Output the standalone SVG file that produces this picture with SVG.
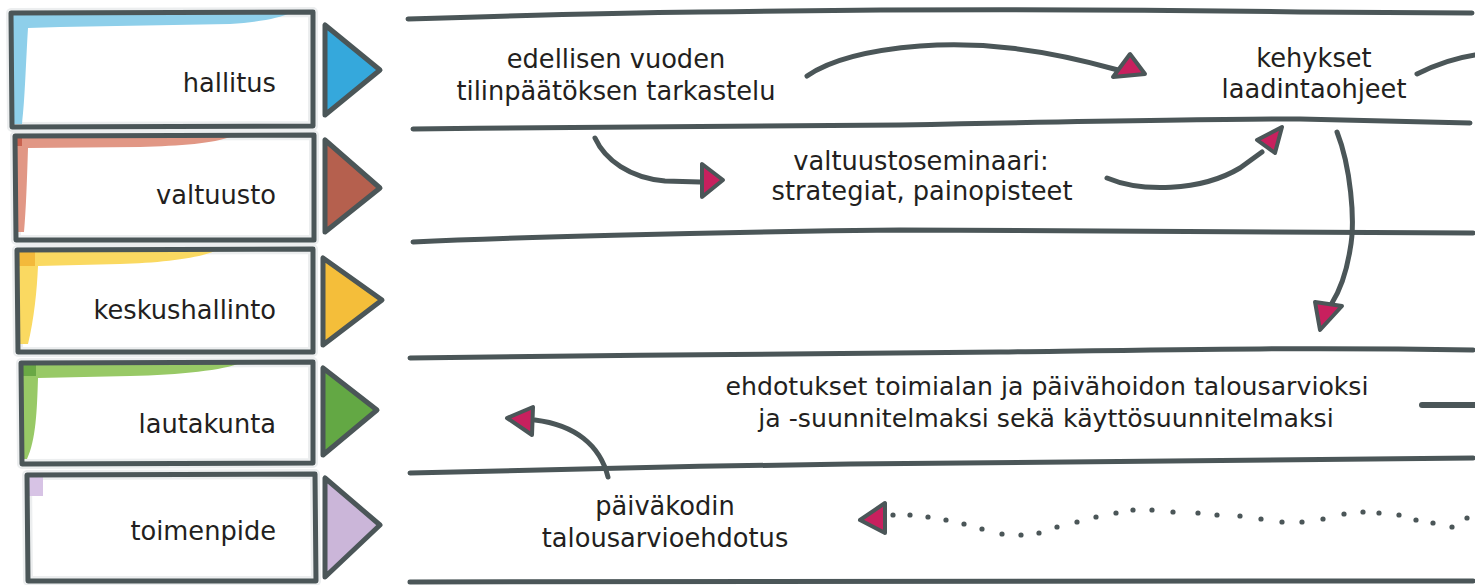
<svg xmlns="http://www.w3.org/2000/svg" width="1475" height="585" viewBox="0 0 1475 585">
<style>
.bg{fill:#ffffff}
.box{fill:none;stroke:#4b5658;stroke-width:5;stroke-linejoin:round;stroke-linecap:round}
.halo{fill:none;stroke:#eceeef;stroke-width:10;stroke-linejoin:round}
.tri{stroke:#4b5658;stroke-width:5;stroke-linejoin:round}
.lane{fill:none;stroke:#4b5658;stroke-width:5;stroke-linecap:round}
.conn{fill:none;stroke:#4b5658;stroke-width:5;stroke-linecap:round;stroke-linejoin:round}
.head{fill:#c8205e;stroke:#4b5658;stroke-width:4;stroke-linejoin:round}
.dot{fill:#4b5658}
text{font-family:"DejaVu Sans","Open Sans","Liberation Sans",sans-serif;font-size:25.7px;fill:#231f20}
.lbl{text-anchor:end}
.mid{text-anchor:middle}
.sm{font-size:25.2px}
</style>
<rect class="bg" x="0" y="0" width="1475" height="585"/>

<g id="lanes">
<path class="lane" d="M408,19 C500,16 600,13 700,12 C900,9 1100,9 1300,12 L1472,13"/>
<path class="lane" d="M413,129 C600,127 800,126 900,125 C1050,122 1200,119 1300,119 L1470,123"/>
<path class="lane" d="M413,242 C500,238 700,232 900,230 C1100,230 1300,233 1473,233"/>
<path class="lane" d="M410,358 C600,355 850,354 1000,352 C1150,350 1300,347 1473,350"/>
<path class="lane" d="M410,473 C500,470 700,466 850,464 C1050,462 1250,460 1473,458"/>
<path class="lane" d="M410,582 C700,580 1100,581 1473,581"/>
</g>

<g id="node-hallitus">
<path class="halo" d="M11,13 L313,12 L313,126 L12,127 Z"/>
<path fill="#8ecfea" d="M13,13 L290,13 C280,18 260,22 230,24 L60,27 L28,28 C26,60 25,100 22,124 L13,124 Z"/>
<path class="box" d="M11,13 L313,12 L313,126 L12,127 Z"/>
<text class="lbl" x="276" y="92">hallitus</text>
<polygon class="tri" fill="#35a8dc" points="325,25 325,115 380,70"/>
</g>

<g id="node-valtuusto">
<path class="halo" d="M15,136 L314,135 L314,240 L16,240 Z"/>
<path fill="#e19785" d="M15,137 L230,137 C215,143 180,146 140,147 L28,148 C27,180 26,210 24,232 L16,232 Z"/>
<rect fill="#c8624f" x="16" y="137" width="6" height="9"/>
<path class="box" d="M15,136 L314,135 L314,240 L16,240 Z"/>
<text class="lbl" x="276" y="204">valtuusto</text>
<polygon class="tri" fill="#b5604e" points="325,140 325,232 380,188"/>
</g>

<g id="node-keskushallinto">
<path class="halo" d="M17,250 L313,249 L313,352 L18,352 Z"/>
<path fill="#fad961" d="M18,251 L215,251 C200,258 160,263 120,264 L38,266 C37,290 34,320 28,344 L19,344 Z"/>
<rect fill="#f3b93a" x="19" y="252" width="16" height="14"/>
<path class="box" d="M17,250 L313,249 L313,352 L18,352 Z"/>
<text class="lbl" x="276" y="319">keskushallinto</text>
<polygon class="tri" fill="#f4be3a" points="323,258 323,345 382,300"/>
</g>

<g id="node-lautakunta">
<path class="halo" d="M21,363 L313,362 L313,463 L22,464 Z"/>
<path fill="#98c966" d="M21,363 L240,363 C225,370 180,375 130,376 L38,378 C37,410 36,440 27,459 L21,459 Z"/>
<rect fill="#6aa845" x="22" y="364" width="14" height="12"/>
<path class="box" d="M21,363 L313,362 L313,463 L22,464 Z"/>
<text class="lbl" x="276" y="433">lautakunta</text>
<polygon class="tri" fill="#63a844" points="323,368 323,455 377,410"/>
</g>

<g id="node-toimenpide">
<path class="halo" d="M27,475 L315,474 L316,581 L28,581 Z"/>
<rect fill="#d7c3e5" x="29" y="477" width="14" height="19"/>
<path class="box" d="M27,475 L315,474 L316,581 L28,581 Z"/>
<text class="lbl" x="276" y="540">toimenpide</text>
<polygon class="tri" fill="#cbb6d9" points="325,478 325,577 380,525"/>
</g>

<g id="node-tilinpaatos">
<text class="mid" x="616" y="68">edellisen vuoden</text>
<text class="mid" x="616" y="100">tilinpäätöksen tarkastelu</text>
</g>
<g id="node-valtuustoseminaari">
<text class="mid" x="921" y="170">valtuustoseminaari:</text>
<text class="mid" x="922" y="200">strategiat, painopisteet</text>
</g>
<g id="node-kehykset">
<text class="mid" x="1314" y="67">kehykset</text>
<text class="mid" x="1314" y="98">laadintaohjeet</text>
</g>
<g id="node-ehdotukset">
<text class="mid sm" x="1047" y="395">ehdotukset toimialan ja päivähoidon talousarvioksi</text>
<text class="mid sm" x="1046" y="427">ja -suunnitelmaksi sekä käyttösuunnitelmaksi</text>
</g>
<g id="node-paivakoti">
<text class="mid" x="665" y="515">päiväkodin</text>
<text class="mid" x="665" y="547">talousarvioehdotus</text>
</g>

<g id="connectors">
<path class="conn" d="M807,76 C830,60 870,50 920,46 C980,42 1040,48 1118,70"/>
<polygon class="head" points="1130,54 1113,77 1145,74"/>

<path class="conn" d="M595,138 C605,160 630,178 665,181 L700,182"/>
<polygon class="head" points="702,164 702,197 723,180"/>

<path class="conn" d="M1107,178 C1140,192 1200,192 1240,168 L1262,152"/>
<polygon class="head" points="1257,140 1282,127 1275,153"/>

<path class="conn" d="M1417,74 C1435,65 1455,58 1475,55"/>

<path class="conn" d="M1337,132 C1350,165 1356,220 1350,250 C1346,275 1340,290 1332,303"/>
<polygon class="head" points="1315,302 1342,306 1320,330"/>

<path class="conn" d="M1422,405 L1475,405" style="stroke-width:6"/>

<path class="conn" d="M608,477 C600,445 575,425 535,420"/>
<polygon class="head" points="507,418 533,407 532,435"/>

<polygon class="head" points="860,520 885,503 885,533"/>
<g>
<circle class="dot" cx="893" cy="515" r="2.6"/>
<circle class="dot" cx="910" cy="515" r="2.6"/>
<circle class="dot" cx="928" cy="517" r="2.6"/>
<circle class="dot" cx="946" cy="520" r="2.6"/>
<circle class="dot" cx="964" cy="524" r="2.6"/>
<circle class="dot" cx="982" cy="529" r="2.6"/>
<circle class="dot" cx="1002" cy="534" r="2.6"/>
<circle class="dot" cx="1021" cy="535" r="2.6"/>
<circle class="dot" cx="1039" cy="533" r="2.6"/>
<circle class="dot" cx="1057" cy="527" r="2.6"/>
<circle class="dot" cx="1077" cy="522" r="2.6"/>
<circle class="dot" cx="1096" cy="517" r="2.6"/>
<circle class="dot" cx="1116" cy="513" r="2.6"/>
<circle class="dot" cx="1133" cy="510" r="2.6"/>
<circle class="dot" cx="1152" cy="510" r="2.6"/>
<circle class="dot" cx="1173" cy="512" r="2.6"/>
<circle class="dot" cx="1198" cy="513" r="2.6"/>
<circle class="dot" cx="1217" cy="515" r="2.6"/>
<circle class="dot" cx="1240" cy="516" r="2.6"/>
<circle class="dot" cx="1261" cy="519" r="2.6"/>
<circle class="dot" cx="1282" cy="522" r="2.6"/>
<circle class="dot" cx="1302" cy="522" r="2.6"/>
<circle class="dot" cx="1323" cy="519" r="2.6"/>
<circle class="dot" cx="1344" cy="514" r="2.6"/>
<circle class="dot" cx="1363" cy="512" r="2.6"/>
<circle class="dot" cx="1379" cy="513" r="2.6"/>
<circle class="dot" cx="1399" cy="515" r="2.6"/>
<circle class="dot" cx="1416" cy="520" r="2.6"/>
<circle class="dot" cx="1433" cy="523" r="2.6"/>
<circle class="dot" cx="1452" cy="527" r="2.6"/>
<circle class="dot" cx="1467" cy="518" r="2.6"/>
</g>
</g>
</svg>
